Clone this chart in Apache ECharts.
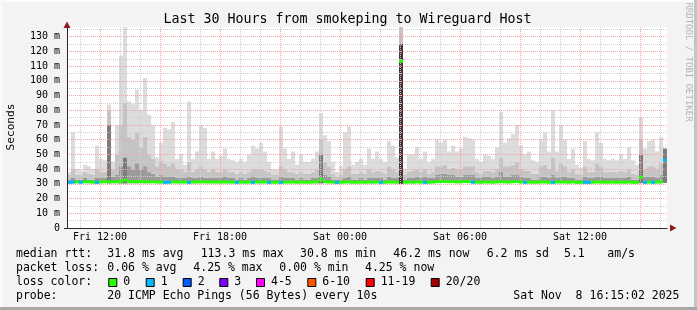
<!DOCTYPE html>
<html><head><meta charset="utf-8">
<script src="https://cdn.jsdelivr.net/npm/echarts@6/dist/echarts.min.js"></script>
<style>html,body{margin:0;padding:0;background:#f3f3f3}#c{width:697px;height:310px}</style>
</head><body><div id="c"></div>
<script>
// ---- data (one bin = 12 minutes, 150 bins = 30 hours) ----
const maxv = [38,65,40,39,43,42,40,56,47,46, 84,45,70,117,137,86,84,94,80,102, 77,70,48,58,68,
  67,72,47,50,43,86,47,52,70,68, 47,52,47,49,54,47,46,45,47,45, 50,56,54,58,52,
  45,40,40,69,54,47,52,43,50,45, 45,47,52,78,63,59,45,38,42,65, 69,43,45,47,43,
  54,47,52,47,45,59,56,48,137,40, 50,50,55,47,52,45,47,60,58,60, 52,56,52,54,62,
  61,60,47,45,50,49,47,55,79,58, 61,64,70,56,50,52,46,45,60,65, 52,80,52,70,60,
  47,54,43,41,59,47,46,65,58,47, 46,47,46,50,47,55,46,43,75,54, 59,60,52,62,54];
const midv = [36,40,36,36,38,37,36,40,38,38, 80,40,50,70,85,62,60,65,55,62, 50,47,42,46,44,
  42,44,40,40,38,45,38,40,42,40, 38,40,38,38,40,38,38,37,38,37, 38,40,40,40,39,
  38,36,36,42,40,38,38,37,38,37, 37,38,40,60,45,42,37,35,36,40, 42,37,37,38,37,
  40,38,39,38,37,42,40,38,137,36, 38,39,40,38,40,37,38,42,42,43, 40,41,40,40,42,
  42,42,38,37,39,39,38,40,48,42, 42,43,45,40,39,39,37,37,42,43, 40,48,39,44,42,
  38,40,37,36,42,38,38,44,42,38, 38,38,38,39,38,40,37,36,60,40, 42,42,40,44,54];
const darkv = [33,34,33,33,34,33,33,34,34,34, 70,35,36,42,48,42,40,44,40,42, 38,37,35,36,35,
  35,35,34,34,34,35,34,34,35,34, 34,34,34,34,35,34,34,33,34,33, 34,35,34,34,34,
  34,33,33,35,34,34,34,33,34,33, 33,34,34,50,36,35,33,33,33,34, 35,33,33,34,33,
  34,34,34,34,33,35,34,34,125,33, 34,34,35,34,35,34,34,36,37,37, 36,36,35,35,36,
  36,36,34,34,35,35,34,35,38,35, 35,36,36,35,34,34,33,33,35,35, 34,36,34,35,35,
  34,34,33,33,35,34,34,35,35,34, 34,34,34,34,34,35,33,33,50,35, 35,35,34,36,54];
const lowv = [30.4,30.3,30.5,30.4,30.5,30.5,30.4,30.3,30.5,30.5, 30.2,30.5,30.4,30.0,30.2,30.3,30.4,30.2,30.4,30.3, 30.4,30.5,30.5,30.4,30.3,
  30.4,30.5,30.5,30.4,30.5,30.3,30.5,30.4,30.4,30.5, 30.5,30.4,30.5,30.5,30.4,30.5,30.5,30.4,30.5,30.4, 30.5,30.3,30.4,30.5,30.4,
  30.3,30.4,30.4,30.3,30.5,30.5,30.4,30.4,30.5,30.4, 30.4,30.5,30.4,30.2,30.5,30.4,30.4,30.3,30.4,30.5, 30.4,30.4,30.4,30.5,30.4,
  30.5,30.4,30.5,30.3,30.4,30.5,30.5,30.4,30.0,30.4, 30.5,30.4,30.5,30.5,30.3,30.4,30.5,30.6,30.7,30.6, 30.6,30.6,30.5,30.6,30.6,
  30.6,30.4,30.5,30.4,30.5,30.5,30.4,30.5,30.6,30.5, 30.5,30.6,30.6,30.5,30.3,30.5,30.4,30.4,30.5,30.5, 30.4,30.3,30.5,30.5,30.5,
  30.4,30.5,30.3,30.4,30.3,30.3,30.4,30.5,30.5,30.4, 30.4,30.5,30.4,30.5,30.4,30.5,30.4,30.3,30.5,30.3, 30.5,30.3,30.5,30.5,30.6];
const median = [31.0,31.2,31.3,31.1,31.4,31.3,31.2,31.0,31.3,31.4, 31.5,31.3,31.4,31.6,32.6,31.5,31.4,31.6,31.5,31.4, 31.3,31.4,31.2,31.3,31.0,
  31.1,31.3,31.2,31.3,31.2,31.0,31.2,31.3,31.4,31.3, 31.2,31.3,31.2,31.2,31.3,31.2,31.2,31.0,31.2,31.1, 31.2,31.0,31.3,31.2,31.3,
  31.0,31.1,31.1,31.0,31.2,31.2,31.3,31.1,31.2,31.1, 31.1,31.2,31.3,33.0,31.4,31.3,31.1,31.0,31.1,31.2, 31.3,31.1,31.1,31.2,31.1,
  31.2,31.1,31.3,31.0,31.1,31.3,31.2,31.1,113.3,31.1, 31.2,31.1,31.3,31.2,31.0,31.1,31.2,31.4,31.6,31.5, 31.4,31.5,31.3,31.4,31.5,
  31.5,31.1,31.2,31.1,31.3,31.2,31.1,31.3,31.5,31.3, 31.2,31.4,31.5,31.3,31.0,31.2,31.1,31.1,31.3,31.2, 31.1,31.0,31.2,31.3,31.2,
  31.1,31.3,31.0,31.1,31.0,31.0,31.1,31.3,31.2,31.1, 31.1,31.2,31.1,31.2,31.1,31.2,31.1,31.0,34.5,31.0, 31.2,31.0,31.2,31.3,46.2];
// loss bucket per bin (0 = "0", 1 = "1", ...)
const loss = [1,1,0,1,0,0,0,1,0,0, 0,0,0,0,0,0,0,0,0,0, 0,0,0,0,1,
  1,0,0,0,0,1,0,0,0,0, 0,0,0,0,0,0,0,1,0,0, 0,1,0,0,0,
  1,0,0,1,0,0,0,0,0,0, 0,0,0,0,0,0,0,1,0,0, 0,0,0,0,0,
  0,0,0,1,0,0,0,0,0,0, 0,0,0,0,1,0,0,0,0,0, 0,0,0,0,0,
  0,1,0,0,0,0,0,0,0,0, 0,0,0,0,1,0,0,0,0,0, 0,1,0,0,0,
  0,0,0,0,1,1,0,0,0,0, 0,0,0,0,0,0,0,0,0,1, 0,1,0,0,1];
const lossNames = ['0','1','2','3','4-5','6-10','11-19','20/20'];
const lossColors = ['#26ff00','#00b8ff','#0059ff','#7e00ff','#ff00ff','#ff5500','#ff0000','#a10000'];
const xTickHours = [12,18,24,30,36];
const xTickLabels = ['Fri 12:00','Fri 18:00','Sat 00:00','Sat 06:00','Sat 12:00'];
const yTickLabels = ['0','10 m','20 m','30 m','40 m','50 m','60 m','70 m','80 m','90 m','100 m','110 m','120 m','130 m'];
const statLines = [
  [[16,'median rtt:'],[107.3,'31.8 ms avg'],[200.7,'113.3 ms max'],[300,'30.8 ms min'],[393.3,'46.2 ms now'],[486.7,'6.2 ms sd'],[564,'5.1'],[607.3,'am/s']],
  [[16,'packet loss:'],[107.3,'0.06 % avg'],[193.3,'4.25 % max'],[279.3,'0.00 % min'],[365,'4.25 % now']],
  [[16,'loss color:']],
  [[16,'probe:'],[107.3,'20 ICMP Echo Pings (56 Bytes) every 10s'],[513.3,'Sat Nov  8 16:15:02 2025']]
];
const titleText = 'Last 30 Hours from smokeping to Wireguard Host';

// ---- build ----
const MONO = '"DejaVu Sans Mono", monospace';
const bins = maxv.map((_, i) => String(i));
const dark = darkv.map((v, i) => Math.max(0, v - lowv[i]));
const mid = midv.map((v, i) => Math.max(0, v - darkv[i]));
const light = maxv.map((v, i) => Math.max(0, v - midv[i]));
const medBase = median.map(v => v - 1);
const medBand = median.map(() => 2);

const RED = '#f4a3a3', GRAY = '#cdcdcd';
const lineY = [254.3, 268.3, 282.3, 296];
const graphic = [];
// frame
graphic.push({type:'rect', shape:{x:694,y:0,width:3,height:310}, style:{fill:'#c4c4c4'}, silent:true});
graphic.push({type:'rect', shape:{x:0,y:307,width:697,height:3}, style:{fill:'#a8a8a8'}, silent:true});
graphic.push({type:'rect', shape:{x:0,y:0,width:2,height:307}, style:{fill:'#fbfbfb'}, silent:true});
graphic.push({type:'rect', shape:{x:0,y:0,width:694,height:2}, style:{fill:'#fbfbfb'}, silent:true});
// arrows
graphic.push({type:'polygon', shape:{points:[[63.5,28],[70.5,28],[67,21.5]]}, style:{fill:'#8b1c1c'}, z:10});
graphic.push({type:'polygon', shape:{points:[[670,224.5],[670,231.5],[676.5,228]]}, style:{fill:'#8b1c1c'}, z:10});
// x axis extension to the left of the y axis
graphic.push({type:'line', shape:{x1:64,y1:228.5,x2:67,y2:228.5}, style:{stroke:'#2a2a2a', lineWidth:1}, z:10});
// title
graphic.push({type:'text', x:347.5, y:19.3, style:{text:titleText, fontFamily:MONO, fontSize:13.3, fill:'#000', align:'center', verticalAlign:'middle'}});
// y name
graphic.push({type:'text', x:11, y:127, rotation:Math.PI/2, style:{text:'Seconds', fontFamily:MONO, fontSize:11.2, fill:'#000', align:'center', verticalAlign:'middle'}});
// watermark
graphic.push({type:'text', x:688, y:62, rotation:-Math.PI/2, style:{text:'RRDTOOL / TOBI OETIKER', fontFamily:MONO, fontSize:9, fill:'#b4b4b4', align:'center', verticalAlign:'middle'}});
// legend lines
statLines.forEach((line, li) => line.forEach(([x, t]) => graphic.push({type:'text', x:x, y:lineY[li], style:{text:t, fontFamily:MONO, fontSize:11.5, fill:'#000', align:'left', verticalAlign:'middle'}})));
const boxX = [108.3,145.7,182.7,219.3,256,307.3,365.7,430.7];
lossNames.forEach((n, i) => {
  graphic.push({type:'rect', shape:{x:boxX[i]+0.5,y:278.5,width:8,height:8}, style:{fill:lossColors[i], stroke:'#000', lineWidth:1}});
  graphic.push({type:'text', x:boxX[i]+15, y:lineY[2], style:{text:n, fontFamily:MONO, fontSize:11.5, fill:'#000', align:'left', verticalAlign:'middle'}});
});

const PX = 201 / 136.6;
const barCommon = {type:'bar', xAxisIndex:0, yAxisIndex:0, barWidth:4, barGap:'-100%', animation:false, silent:true};
const option = {
  backgroundColor:'#f3f3f3',
  animation:false,
  grid:[
    {left:67, top:27, width:600, height:201, show:true, backgroundColor:'#ffffff', borderWidth:0},
    {left:67, top:228 - 135*PX, width:600, height:135*PX, show:false},
    {left:80, top:27, width:580, height:201, show:false}
  ],
  xAxis:[
    {gridIndex:0, type:'category', data:bins, boundaryGap:true, z:6,
     axisLine:{show:true, lineStyle:{color:'#2a2a2a', width:1}}, axisTick:{show:false}, axisLabel:{show:false}, splitLine:{show:false}},
    {gridIndex:1, type:'value', min:0, max:1, show:false},
    {gridIndex:2, type:'value', min:11, max:40, interval:1, z:3,
     axisLine:{show:false}, axisTick:{show:false},
     splitLine:{show:true, lineStyle:{color:[GRAY, RED, GRAY], type:[1,1], width:1}},
     axisLabel:{margin:4, fontFamily:MONO, fontSize:10, color:'#000', showMinLabel:true, showMaxLabel:true,
       formatter:(v) => { const k = xTickHours.indexOf(Math.round(v)); return k >= 0 ? xTickLabels[k] : ''; }}}
  ],
  yAxis:[
    {gridIndex:0, type:'value', min:0, max:136.6, z:6,
     axisLine:{show:true, lineStyle:{color:'#2a2a2a', width:1}}, axisTick:{show:false}, axisLabel:{show:false}, splitLine:{show:false}},
    {gridIndex:1, type:'value', min:0, max:135, interval:5, z:3,
     axisLine:{show:false}, axisTick:{show:false},
     splitLine:{show:true, lineStyle:{color:[RED, GRAY], type:[1,1], width:1}},
     axisLabel:{margin:7, fontFamily:MONO, fontSize:10, color:'#000',
       formatter:(v) => (Math.round(v) % 10 === 0 ? yTickLabels[Math.round(v)/10] : '')}},
    {gridIndex:2, type:'value', min:0, max:1, show:false}
  ],
  series:[
    Object.assign({}, barCommon, {name:'base', stack:'smoke', data:lowv, itemStyle:{color:'rgba(0,0,0,0)'}}),
    Object.assign({}, barCommon, {name:'dark', stack:'smoke', data:dark,
      itemStyle:{color:(p) => (darkv[p.dataIndex] > 100 ? '#3c3c3c' : (darkv[p.dataIndex] > 45 ? '#7c7c7c' : '#9a9a9a'))}}),
    Object.assign({}, barCommon, {name:'mid', stack:'smoke', data:mid, itemStyle:{color:'#c4c4c4'}}),
    Object.assign({}, barCommon, {name:'light', stack:'smoke', data:light, itemStyle:{color:'#dcdcdc'}}),
    Object.assign({}, barCommon, {name:'mbase', stack:'med', data:medBase, itemStyle:{color:'rgba(0,0,0,0)'}, z:4}),
    Object.assign({}, barCommon, {name:'median', stack:'med', data:medBand, z:4,
      itemStyle:{color:(p) => lossColors[loss[p.dataIndex]]}})
  ],
  graphic:graphic
};
const chart = echarts.init(document.getElementById('c'), null, {renderer:'canvas', width:697, height:310});
chart.setOption(option);
</script></body></html>
